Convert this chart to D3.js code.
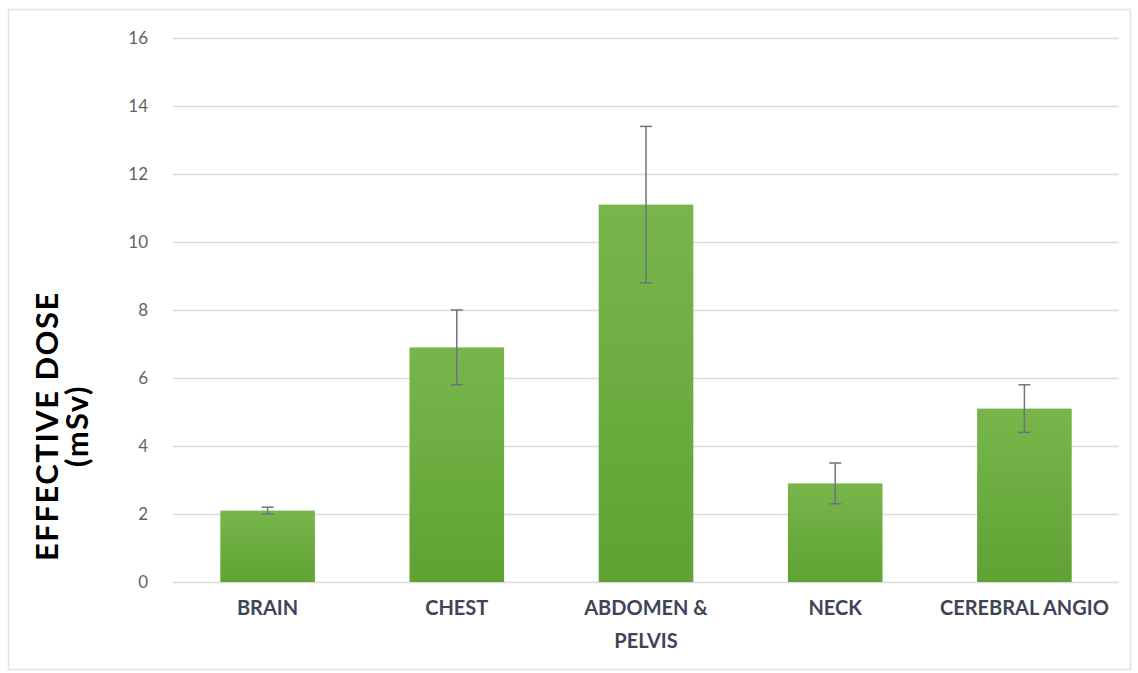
<!DOCTYPE html>
<html>
<head>
<meta charset="utf-8">
<script src="https://cdn.jsdelivr.net/npm/d3@7"></script>
<style>
html,body{margin:0;padding:0;background:#fff;}
svg{display:block;}
</style>
</head>
<body>
<svg id="chart" width="1138" height="673"></svg>
<script>
const categories = [["BRAIN"], ["CHEST"], ["ABDOMEN &", "PELVIS"], ["NECK"], ["CEREBRAL ANGIO"]];
const categoryKeys = ["BRAIN", "CHEST", "ABDOMEN & PELVIS", "NECK", "CEREBRAL ANGIO"];
const doseValues = [2.1, 6.9, 11.1, 2.9, 5.1];
const errorValues = [0.1, 1.1, 2.3, 0.6, 0.7];
const yTicks = [0, 2, 4, 6, 8, 10, 12, 14, 16];
const yTitle = ["EFFECTIVE DOSE", "(mSv)"];

const svg = d3.select("#chart");
const plot = {left: 173, right: 1119, top: 38, bottom: 582};

svg.append("rect").attr("x", 8.5).attr("y", 9.5).attr("width", 1122).attr("height", 660)
  .attr("fill", "#fff").attr("stroke", "#e3e3e3").attr("stroke-width", 1.5);

const defs = svg.append("defs");
const grad = defs.append("linearGradient").attr("id", "barGrad")
  .attr("x1", 0).attr("y1", 0).attr("x2", 0).attr("y2", 1);
grad.append("stop").attr("offset", "0%").attr("stop-color", "#78b64c");
grad.append("stop").attr("offset", "100%").attr("stop-color", "#5fa233");

const x = d3.scaleBand().domain(categoryKeys).range([plot.left, plot.right])
  .paddingInner(0.5).paddingOuter(0.25);
const y = d3.scaleLinear().domain([0, 16]).range([plot.bottom, plot.top]);

// grid + ticks
const yAxis = d3.axisLeft(y).tickValues(yTicks).tickSize(-(plot.right - plot.left)).tickPadding(25);
const gy = svg.append("g").attr("transform", `translate(${plot.left},0)`).call(yAxis);
gy.select(".domain").remove();
gy.selectAll(".tick line").attr("stroke", "#dcdcdc").attr("stroke-width", 1.5);
gy.selectAll(".tick text").attr("fill", "#636363").attr("font-family", "Lato, 'Open Sans', sans-serif")
  .attr("font-size", 17);

// bars
const data = categoryKeys.map((k, i) => ({k, v: doseValues[i], e: errorValues[i], lines: categories[i]}));
svg.append("g").selectAll("rect").data(data).join("rect")
  .attr("x", d => x(d.k)).attr("width", x.bandwidth())
  .attr("y", d => y(d.v)).attr("height", d => y(0) - y(d.v))
  .attr("fill", "url(#barGrad)");

// error bars
const eg = svg.append("g").attr("stroke", "#6d7282").attr("stroke-width", 1.5).attr("fill", "none");
data.forEach(d => {
  const cx = x(d.k) + x.bandwidth() / 2;
  eg.append("line").attr("x1", cx).attr("x2", cx).attr("y1", y(d.v + d.e)).attr("y2", y(d.v - d.e));
  eg.append("line").attr("x1", cx - 6).attr("x2", cx + 6).attr("y1", y(d.v + d.e)).attr("y2", y(d.v + d.e));
  eg.append("line").attr("x1", cx - 6).attr("x2", cx + 6).attr("y1", y(d.v - d.e)).attr("y2", y(d.v - d.e));
});

// category labels
const lg = svg.append("g").attr("font-family", "Lato, 'Open Sans', sans-serif").attr("font-weight", "bold")
  .attr("font-size", 20).attr("fill", "#3f4556").attr("text-anchor", "middle");
data.forEach(d => {
  const cx = x(d.k) + x.bandwidth() / 2;
  const t = lg.append("text").attr("x", cx).attr("y", 615);
  d.lines.forEach((ln, i) => t.append("tspan").attr("x", cx).attr("dy", i === 0 ? 0 : 33).text(ln));
});

// y title
const tg = svg.append("g").attr("font-family", "Lato, 'Open Sans', sans-serif").attr("font-weight", "bold")
  .attr("font-size", 31).attr("letter-spacing", 1.5).attr("fill", "#000").attr("text-anchor", "middle");
tg.append("text").attr("transform", "translate(58,426) rotate(-90)").text(yTitle[0]);
tg.append("text").attr("transform", "translate(88,426) rotate(-90)").text(yTitle[1]);
</script>
</body>
</html>
